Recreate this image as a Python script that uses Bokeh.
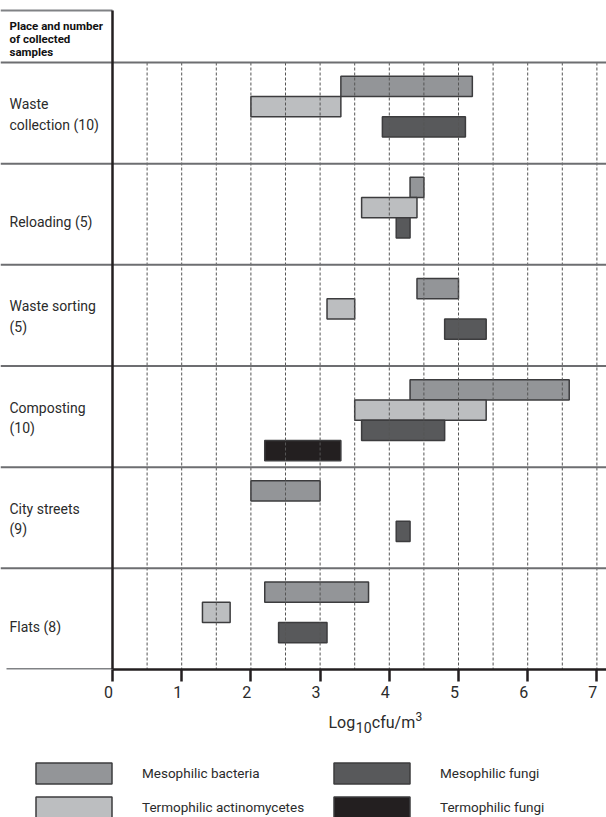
import numpy as np
from bokeh.plotting import figure
from bokeh.models import Range1d, LinearAxis, FixedTicker, ColumnDataSource, Legend, LegendItem
from bokeh.layouts import column
from bokeh.core.properties import value
from bokeh.embed import file_html
from bokeh.resources import INLINE

# ---------------- data ----------------
place_line1 = ["Waste", "Reloading (5)", "Waste sorting", "Composting", "City streets", "Flats (8)"]
place_line2 = ["collection (10)", "", "(5)", "(10)", "(9)", ""]

series_names = ["Mesophilic bacteria", "Termophilic actinomycetes", "Mesophilic fungi", "Termophilic fungi"]
series_colors = ["#939598", "#bcbec0", "#58595b", "#231f20"]

meso_bact_lo = [3.3, 4.3, 4.4, 4.3, 2.0, 2.2]
meso_bact_hi = [5.2, 4.5, 5.0, 6.6, 3.0, 3.7]
term_act_lo = [2.0, 3.6, 3.1, 3.5, None, 1.3]
term_act_hi = [3.3, 4.4, 3.5, 5.4, None, 1.7]
meso_fungi_lo = [3.9, 4.1, 4.8, 3.6, 4.1, 2.4]
meso_fungi_hi = [5.1, 4.3, 5.4, 4.8, 4.3, 3.1]
term_fungi_lo = [None, None, None, 2.2, None, None]
term_fungi_hi = [None, None, None, 3.3, None, None]

x_ticks = [0, 1, 2, 3, 4, 5, 6, 7]
grid_x = [0.5, 1.0, 1.5, 2.0, 2.5, 3.0, 3.5, 4.0, 4.5, 5.0, 5.5, 6.0, 6.5, 7.0]
header_lines = ["Place and number", "of collected", "samples"]

# ---------------- layout helpers ----------------
FONT = "Roboto"
TXT = "#2b2b2b"
PX0, UNIT = 112.0, 69.2           # page x of value 0, px per log unit
ROW_TOP, ROW_BOT = 62.0, 669.0
ROW_H = (ROW_BOT - ROW_TOP) / 6.0
def fx(px):
    return (px - PX0) / UNIT
def fy(py):
    return (py - ROW_TOP) / ROW_H

SLOT_OFF, SLOT_H = 0.1354, 0.2

W = 606
BOTTOM1 = 35
H1 = int(ROW_BOT) + BOTTOM1      # 704
H2 = 817 - H1                     # 113

p = figure(width=W, height=H1, output_backend="svg", toolbar_location=None,
           x_range=Range1d(fx(0), fx(W)), y_range=Range1d(6, fy(0)),
           x_axis_type=None, y_axis_type=None,
           min_border_left=0, min_border_right=0, min_border_top=0, min_border_bottom=BOTTOM1)
p.outline_line_color = None
p.background_fill_color = "white"
p.border_fill_color = "white"

# bars
all_lo = [meso_bact_lo, term_act_lo, meso_fungi_lo, term_fungi_lo]
all_hi = [meso_bact_hi, term_act_hi, meso_fungi_hi, term_fungi_hi]
sources = []
for k in range(4):
    ys, ls, rs = [], [], []
    for i, (lo, hi) in enumerate(zip(all_lo[k], all_hi[k])):
        if lo is None:
            continue
        ys.append(i + SLOT_OFF + SLOT_H * k + SLOT_H / 2)
        ls.append(lo)
        rs.append(hi)
    src = ColumnDataSource(dict(y=ys, left=ls, right=rs))
    sources.append(src)
    p.hbar(y="y", left="left", right="right", height=SLOT_H, source=src,
           fill_color=series_colors[k], line_color="#3c3c3e", line_width=1.5)

# dashed grid
p.segment(x0=grid_x, y0=[0] * len(grid_x), x1=grid_x, y1=[6] * len(grid_x),
          line_color="#555555", line_width=1, line_dash="3 2")

# row separators
rows = list(range(6))
p.segment(x0=[fx(0)] * 6, y0=rows, x1=[fx(W)] * 6, y1=rows,
          line_color="#6d6e71", line_width=2)
# header top line, grey bottom-left line, left axis line
p.segment(x0=[fx(0)], y0=[fy(10)], x1=[0], y1=[fy(10)], line_color="#808285", line_width=2)
p.segment(x0=[fx(6)], y0=[6], x1=[0], y1=[6], line_color="#808285", line_width=3)
p.segment(x0=[0], y0=[fy(10)], x1=[0], y1=[6], line_color="#231f20", line_width=2.5)

# row labels
lx, ly, lt = [], [], []
for i, (a, b) in enumerate(zip(place_line1, place_line2)):
    if b:
        lx += [fx(9), fx(9)]
        ly += [i + 0.5 - 9 / ROW_H, i + 0.5 + 11.5 / ROW_H]
        lt += [a, b]
    else:
        lx.append(fx(9))
        ly.append(i + 0.5 + 8 / ROW_H)
        lt.append(a)
p.text(x=lx, y=ly, text=lt, text_font=value(FONT), text_font_size="14px",
       text_color=TXT, text_baseline="middle", text_align="left")

# header
p.text(x=[fx(9)] * 3, y=[fy(25), fy(38), fy(51)], text=header_lines,
       text_font=value(FONT), text_font_size="11.5px", text_font_style="bold",
       text_color="#111111", text_baseline="alphabetic", text_align="left")

ax = LinearAxis(ticker=FixedTicker(ticks=x_ticks), bounds=(0, fx(W)))
ax.axis_line_width = 2.5
ax.axis_line_color = "#231f20"
ax.major_tick_out = 12
ax.major_tick_in = 0
ax.major_tick_line_width = 2.5
ax.major_tick_line_color = "#231f20"
ax.minor_tick_line_color = None
ax.major_label_text_font = FONT
ax.major_label_text_font_size = "16px"
ax.major_label_text_color = TXT
ax.major_label_standoff = 1
# labels sit just left of their ticks in the reference
ax.major_label_overrides = {t: f"{t}\u2002" for t in x_ticks}
p.add_layout(ax, "below")

# ---------------- legend / axis title figure ----------------
X2 = 1000.0   # offset so that this figure's x range never meets the chart data
p2 = figure(width=W, height=H2, output_backend="svg", toolbar_location=None,
            x_range=Range1d(X2, X2 + W), y_range=Range1d(817, H1),
            x_axis_type=None, y_axis_type=None,
            min_border_left=0, min_border_right=0, min_border_top=0, min_border_bottom=0)
p2.outline_line_color = None
p2.background_fill_color = "white"
p2.border_fill_color = "white"

# axis title: Log10cfu/m3
p2.text(x=[X2 + 328.0], y=[721.7], text=["Log"], text_font=value(FONT), text_font_size="16px",
        text_color=TXT, text_baseline="alphabetic")
p2.text(x=[X2 + 355.3], y=[726.7], text=["10"], text_font=value(FONT), text_font_size="14px",
        text_color=TXT, text_baseline="alphabetic")
p2.text(x=[X2 + 371.3], y=[721.7], text=["cfu/m"], text_font=value(FONT), text_font_size="16px",
        text_color=TXT, text_baseline="alphabetic")
p2.text(x=[X2 + 415.0], y=[715.5], text=["3"], text_font=value(FONT), text_font_size="12px",
        text_color=TXT, text_baseline="alphabetic")

items = []
for k in range(4):
    # swatch-only renderers (hidden): legend keys for the four series
    r = p2.hbar(y="y", left="left", right="right", height=SLOT_H, source=sources[k],
                fill_color=series_colors[k], line_color="#3c3c3e", line_width=1.5)
    r.visible = False
    items.append(LegendItem(label=series_names[k], renderers=[r]))

# legend swatches are drawn inset by 10% of the glyph box
leg = Legend(items=items, location=(26, -3), orientation="vertical", ncols=2,
             glyph_width=95, glyph_height=26, label_standoff=21, spacing=8,
             label_width=174, label_height=21, padding=0, margin=0,
             label_text_font=FONT, label_text_font_size="13.5px", label_text_color=TXT,
             border_line_color=None, background_fill_alpha=0)
p2.add_layout(leg)

layout = column(p, p2, spacing=0)
open("out.html", "w").write(file_html(layout, INLINE))
